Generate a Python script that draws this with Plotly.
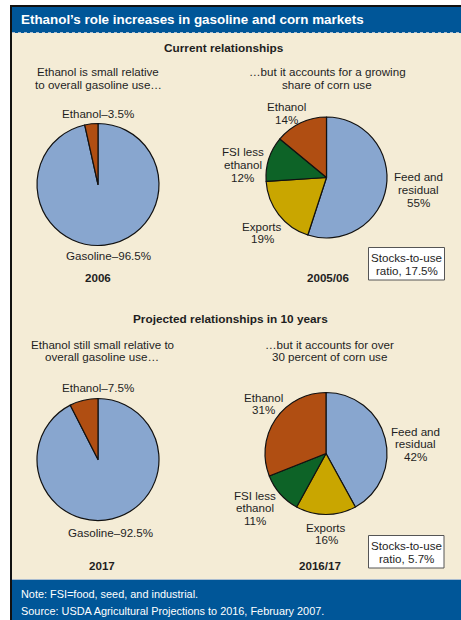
import plotly.graph_objects as go

W, H = 461, 620

# Shares of gasoline use (percent)
gas_labels = ["Gasoline", "Ethanol"]
gas_2006 = [96.5, 3.5]
gas_2017 = [92.5, 7.5]

# Shares of corn use (percent)
corn_labels = ["Feed and residual", "Exports", "FSI less ethanol", "Ethanol"]
corn_2005 = [55, 19, 12, 14]
corn_2016 = [42, 16, 11, 31]

# Stocks-to-use ratios (percent)
stocks_years = ["2005/06", "2016/17"]
stocks_to_use = [17.5, 5.7]

C_BLUE = "#88A6CF"
C_BROWN = "#B04E12"
C_GREEN = "#0D6327"
C_GOLD = "#C9A600"
C_BEIGE = "#F4ECD6"
C_HEADER = "#005698"
FONT = "Liberation Sans, Arial, sans-serif"
BODY = 11.6
LEAD = 12.7  # line spacing for stacked labels

gas_colors = [C_BLUE, C_BROWN]
corn_colors = [C_BLUE, C_GOLD, C_GREEN, C_BROWN]


def px(x):
    return x / W


def py(y):
    return 1 - y / H


def pie(values, labels, colors, cx, cy, r):
    return go.Pie(
        values=values, labels=labels, sort=False, direction="clockwise",
        rotation=0, textinfo="none", hoverinfo="label+percent",
        marker=dict(colors=colors, line=dict(color="#111111", width=1.2)),
        domain=dict(x=[px(cx - r), px(cx + r)], y=[py(cy + r), py(cy - r)]),
        showlegend=False,
    )


fig = go.Figure()
fig.add_trace(pie(gas_2006, gas_labels, gas_colors, 98, 184.5, 61))
fig.add_trace(pie(corn_2005, corn_labels, corn_colors, 326.5, 177.5, 60.5))
fig.add_trace(pie(gas_2017, gas_labels, gas_colors, 98, 459.5, 61))
fig.add_trace(pie(corn_2016, corn_labels, corn_colors, 326, 453.5, 61))

shapes = [
    # frame
    dict(type="rect", x0=px(10), x1=px(W + 5), y0=py(H + 5), y1=py(5),
         fillcolor="#111111", line_width=0, layer="below"),
    dict(type="rect", x0=px(12), x1=px(W + 5), y0=py(33), y1=py(7),
         fillcolor=C_HEADER, line_width=0, layer="below"),
    dict(type="rect", x0=px(12), x1=px(W + 5), y0=py(579), y1=py(33),
         fillcolor=C_BEIGE, line_width=0, layer="below"),
    dict(type="rect", x0=px(12), x1=px(W + 5), y0=py(H + 5), y1=py(580),
         fillcolor=C_HEADER, line_width=0, layer="below"),
    dict(type="line", x0=px(12), x1=px(W + 5), y0=py(32.5), y1=py(32.5),
         line=dict(color="#A9BCD0", width=1, dash="dot"), layer="below"),
    dict(type="line", x0=px(12), x1=px(W + 5), y0=py(579.5), y1=py(579.5),
         line=dict(color="#A9BCD0", width=1), layer="below"),
    # stocks-to-use boxes
    dict(type="rect", x0=px(368.5), x1=px(444.5), y0=py(280), y1=py(247.5),
         fillcolor="white", line=dict(color="#555555", width=1), layer="below"),
    dict(type="rect", x0=px(368.5), x1=px(444), y0=py(568), y1=py(535.5),
         fillcolor="white", line=dict(color="#555555", width=1), layer="below"),
]

annotations = []


def text(x, y, s, size=BODY, bold=False, color="#1E1E1E", anchor="center"):
    if bold:
        s = "<b>" + s + "</b>"
    annotations.append(dict(
        x=px(x), y=py(y), xref="paper", yref="paper", text=s, showarrow=False,
        xanchor=anchor, yanchor="middle",
        font=dict(family=FONT, size=size, color=color),
    ))


def lines(x, y_first, rows, lead=LEAD):
    for i, row in enumerate(rows):
        text(x, y_first + i * lead, row)


def pct(v):
    return f"{v:g}%"


text(19, 20, "Ethanol’s role increases in gasoline and corn markets", size=13.4,
     bold=True, color="white", anchor="left")
text(19, 594, "Note: FSI=food, seed, and industrial.", size=10.9, color="white", anchor="left")
text(19, 611, "Source: USDA Agricultural Projections to 2016, February 2007.",
     size=10.9, color="white", anchor="left")

# Current relationships
text(224, 48, "Current relationships", size=11.8, bold=True)
lines(98, 71.5, ["Ethanol is small relative", "to overall gasoline use…"])
text(98, 113, "Ethanol–" + pct(gas_2006[1]))
text(108, 256, "Gasoline–" + pct(gas_2006[0]))
text(98, 277, "2006", bold=True)

lines(327, 71.5, ["…but it accounts for a growing", "share of corn use"])
lines(286, 106.5, ["Ethanol", pct(corn_2005[3])])
lines(243, 152, ["FSI less", "ethanol", pct(corn_2005[2])])
lines(418, 177, ["Feed and", "residual", pct(corn_2005[0])])
lines(262, 226, ["Exports", pct(corn_2005[1])])
lines(406.5, 257.5, ["Stocks-to-use", "ratio, " + pct(stocks_to_use[0])])
text(328, 277, stocks_years[0], bold=True)

# Projected relationships
text(230, 319, "Projected relationships in 10 years", size=11.8, bold=True)
lines(102, 344, ["Ethanol still small relative to", "overall gasoline use…"])
text(98, 387, "Ethanol–" + pct(gas_2017[1]))
text(110, 532, "Gasoline–" + pct(gas_2017[0]))
text(102, 565, "2017", bold=True)

lines(329, 344, ["…but it accounts for over", "30 percent of corn use"])
lines(263, 397, ["Ethanol", pct(corn_2016[3])])
lines(415, 431, ["Feed and", "residual", pct(corn_2016[0])])
lines(255, 495, ["FSI less", "ethanol", pct(corn_2016[2])])
lines(326, 527, ["Exports", pct(corn_2016[1])])
lines(406, 545.5, ["Stocks-to-use", "ratio, " + pct(stocks_to_use[1])])
text(320, 565, stocks_years[1], bold=True)

fig.update_layout(
    width=W, height=H, margin=dict(l=0, r=0, t=0, b=0),
    paper_bgcolor="white", plot_bgcolor="white",
    shapes=shapes, annotations=annotations,
    font=dict(family=FONT),
)

fig.write_html("out.html")
